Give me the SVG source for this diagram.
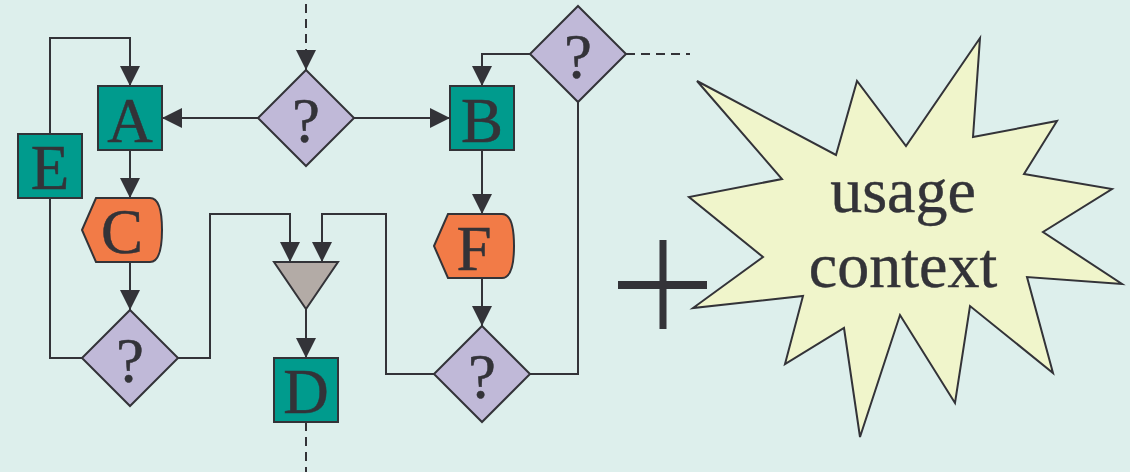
<svg xmlns="http://www.w3.org/2000/svg" width="1130" height="472" viewBox="0 0 1130 472">
<style>
.box{fill:#009B8D;stroke:#333338;stroke-width:2}
.disp{fill:#F27B47;stroke:#333338;stroke-width:2}
.dec{fill:#C0B9D8;stroke:#333338;stroke-width:2}
.mrg{fill:#B3ABA6;stroke:#333338;stroke-width:2}
.lbl{font-family:"Liberation Serif",serif;font-size:63px;fill:#333338;stroke:#333338;stroke-width:0.5;text-anchor:middle}
.big{font-family:"Liberation Serif",serif;font-size:64px;fill:#333338;stroke:#333338;stroke-width:0.4;text-anchor:middle}
.ln{fill:none;stroke:#333338;stroke-width:2}
.dash{fill:none;stroke:#333338;stroke-width:2;stroke-dasharray:9 6}
</style>
<defs>
<marker id="ah" markerUnits="userSpaceOnUse" markerWidth="20" markerHeight="20" refX="20" refY="10" orient="auto">
<path d="M0,0 L20,10 L0,20 z" fill="#333338"/>
</marker>
</defs>
<rect width="1130" height="472" fill="#DDEFEC"/>
<g id="connectors">
<path class="dash" d="M306,4 V52"/>
<path class="ln" d="M306,50 V70" marker-end="url(#ah)"/>
<path class="ln" d="M258,118 H162" marker-end="url(#ah)"/>
<path class="ln" d="M354,118 H450" marker-end="url(#ah)"/>
<path class="ln" d="M50,134 V38 H130 V86" marker-end="url(#ah)"/>
<path class="ln" d="M130,150 V198" marker-end="url(#ah)"/>
<path class="ln" d="M130,262 V310" marker-end="url(#ah)"/>
<path class="ln" d="M82,358 H50 V198"/>
<path class="ln" d="M178,358 H210 V214 H290 V262" marker-end="url(#ah)"/>
<path class="ln" d="M434,374 H386 V214 H322 V262" marker-end="url(#ah)"/>
<path class="ln" d="M306,309 V358" marker-end="url(#ah)"/>
<path class="dash" d="M306,422 V472"/>
<path class="ln" d="M530,54 H482 V86" marker-end="url(#ah)"/>
<path class="dash" d="M626,54 H690"/>
<path class="ln" d="M482,150 V214" marker-end="url(#ah)"/>
<path class="ln" d="M482,278 V326" marker-end="url(#ah)"/>
<path class="ln" d="M530,374 H578 V102"/>
</g>
<g id="decTop"><path class="dec" d="M306,70 L354,118 L306,166 L258,118 Z"/><text class="lbl" x="306" y="142">?</text></g>
<g id="A"><rect class="box" x="98" y="86" width="64" height="64"/><text class="lbl" x="130" y="142">A</text></g>
<g id="B"><rect class="box" x="450" y="86" width="64" height="64"/><text class="lbl" x="482" y="142">B</text></g>
<g id="E"><rect class="box" x="18" y="134" width="64" height="64"/><text class="lbl" x="50" y="189">E</text></g>
<g id="C"><path class="disp" d="M82,230 L96,198 L150,198 Q162,198 162,230 Q162,262 150,262 L96,262 Z"/><text class="lbl" x="122" y="253">C</text></g>
<g id="decLeft"><path class="dec" d="M130,310 L178,358 L130,406 L82,358 Z"/><text class="lbl" x="130" y="382">?</text></g>
<g id="merge"><path class="mrg" d="M274,262 L338,262 L306,309 Z"/></g>
<g id="D"><rect class="box" x="274" y="358" width="64" height="64"/><text class="lbl" x="306" y="413">D</text></g>
<g id="decTopRight"><path class="dec" d="M578,6 L626,54 L578,102 L530,54 Z"/><text class="lbl" x="578" y="78">?</text></g>
<g id="F"><path class="disp" d="M434,246 L448,214 L502,214 Q514,214 514,246 Q514,278 502,278 L448,278 Z"/><text class="lbl" x="474" y="270">F</text></g>
<g id="decBottomRight"><path class="dec" d="M482,326 L530,374 L482,422 L434,374 Z"/><text class="lbl" x="482" y="398">?</text></g>
<g id="plus">
<rect x="659.5" y="240" width="7" height="89" fill="#333338"/>
<rect x="618" y="281" width="89" height="8" fill="#333338"/>
</g>
<g id="context">
<path d="M697,81 L836,155 L857,81 L906,146 L980,38 L973,137 L1057,121 L1024,174 L1112,189 L1043,232 L1122,284 L1027,277 L1053,373 L970,306 L955,403 L900,315 L860,437 L844,328 L785,364 L803,296 L693,308 L763,257 L689,197 L782,179 Z" fill="#F0F5CB" stroke="#333338" stroke-width="2"/>
<text class="big" x="903" y="212">usage</text>
<text class="big" x="903" y="287">context</text>
</g>
</svg>
